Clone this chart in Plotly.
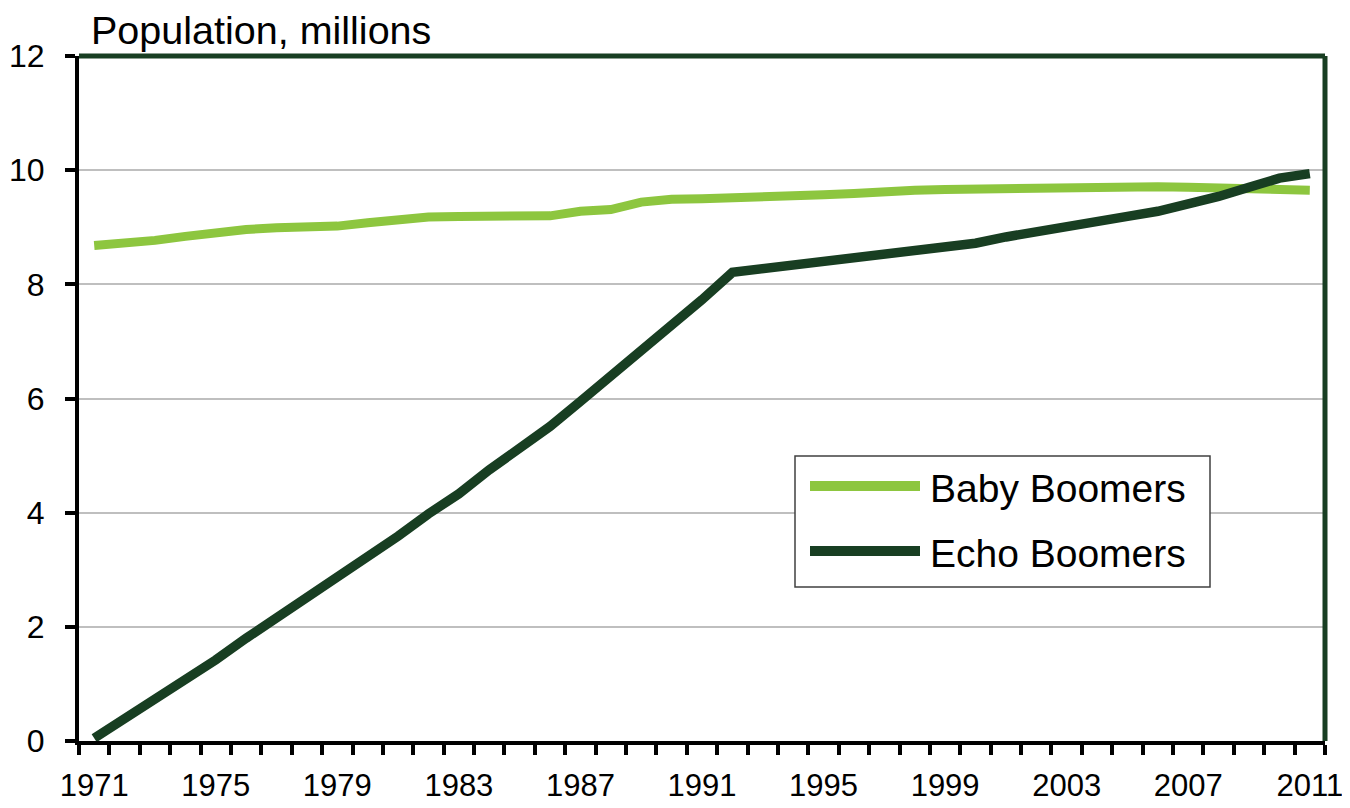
import plotly.graph_objects as go

years = list(range(1971, 2012))
baby_boomers = [8.68, 8.71, 8.77, 8.84, 8.91, 8.96, 8.99, 9.01, 9.02, 9.08,
                9.13, 9.18, 9.19, 9.20, 9.20, 9.20, 9.28, 9.31, 9.44, 9.49,
                9.50, 9.51, 9.53, 9.55, 9.57, 9.59, 9.63, 9.65, 9.66, 9.67,
                9.68, 9.69, 9.70, 9.71, 9.71, 9.71, 9.70, 9.69, 9.67, 9.66, 9.65]
echo_boomers = [0.05, 0.39, 0.74, 1.06, 1.42, 1.80, 2.15, 2.50, 2.85, 3.22,
                3.59, 3.98, 4.33, 4.75, 5.13, 5.51, 5.95, 6.39, 6.82, 7.29,
                7.73, 8.21, 8.27, 8.33, 8.39, 8.46, 8.53, 8.58, 8.65, 8.72,
                8.83, 8.93, 9.02, 9.11, 9.19, 9.28, 9.40, 9.54, 9.70, 9.86, 9.94]
x_tick_vals = [1971, 1975, 1979, 1983, 1987, 1991, 1995, 1999, 2003, 2007, 2011]
x_tick_text = [str(v) for v in x_tick_vals]
y_tick_vals = [0, 2, 4, 6, 8, 10, 12]
series_names = ["Baby Boomers", "Echo Boomers"]
title_text = "Population, millions"

LIGHT = "#8DC63F"
DARK = "#183E22"
FONT = "Arial, Liberation Sans, sans-serif"

# page has an 8px body margin; figure sized to fill the rest of the window
OFF = 8
W, H = 1350 - OFF, 808 - OFF
PL, PR, PT, PB = 79, 1325, 56, 741          # plot area in page pixels
L, T = PL - OFF, PT - OFF
R, B = W - (PR - OFF), H - (PB - OFF)
pw, ph = PR - PL, PB - PT

def px(x):
    return (x - PL) / pw

def py(y):
    return (PB - y) / ph

fig = go.Figure()
fig.add_trace(go.Scatter(x=years, y=baby_boomers, mode="lines", name=series_names[0],
                         line=dict(color=LIGHT, width=9), showlegend=False))
fig.add_trace(go.Scatter(x=years, y=echo_boomers, mode="lines", name=series_names[1],
                         line=dict(color=DARK, width=9.5), showlegend=False))

shapes = [
    dict(type="line", xref="paper", yref="paper", x0=0, x1=1, y0=1, y1=1,
         line=dict(color=DARK, width=5), layer="above"),
    dict(type="line", xref="paper", yref="paper", x0=1, x1=1, y0=0, y1=1,
         line=dict(color=DARK, width=5), layer="above"),
    # legend box
    dict(type="rect", xref="paper", yref="paper", x0=px(795), x1=px(1210),
         y0=py(587), y1=py(456), line=dict(color="#404040", width=1.5),
         fillcolor="white", layer="above"),
    dict(type="line", xref="paper", yref="paper", x0=px(810), x1=px(920),
         y0=py(486), y1=py(486), line=dict(color=LIGHT, width=10), layer="above"),
    dict(type="line", xref="paper", yref="paper", x0=px(810), x1=px(920),
         y0=py(551), y1=py(551), line=dict(color=DARK, width=10), layer="above"),
]

annotations = [
    dict(text=title_text, xref="paper", yref="paper", x=px(89), y=1,
         xanchor="left", yanchor="bottom", showarrow=False, yshift=2,
         font=dict(family=FONT, size=39.5, color="black")),
    dict(text=series_names[0], xref="paper", yref="paper", x=px(928), y=py(486),
         xanchor="left", yanchor="middle", showarrow=False, yshift=-2,
         font=dict(family=FONT, size=39, color="black")),
    dict(text=series_names[1], xref="paper", yref="paper", x=px(928), y=py(551),
         xanchor="left", yanchor="middle", showarrow=False, yshift=-2,
         font=dict(family=FONT, size=39, color="black")),
]

fig.update_layout(
    width=W, height=H,
    margin=dict(l=L, r=R, t=T, b=B, pad=0, autoexpand=False),
    paper_bgcolor="white", plot_bgcolor="white",
    font=dict(family=FONT, size=32, color="black"),
    shapes=shapes, annotations=annotations,
    showlegend=False,
)

fig.update_xaxes(
    range=[1970.5, 2011.5], tickmode="array", tickvals=x_tick_vals, ticktext=x_tick_text,
    ticks="", showgrid=False, zeroline=False, automargin=False,
    showline=True, linecolor="black", linewidth=4,
    tickfont=dict(family=FONT, size=31, color="black"), ticklabelstandoff=14,
    minor=dict(ticks="outside", tick0=1970.5, dtick=1, ticklen=10, tickwidth=4,
               tickcolor="black", showgrid=False),
)
fig.update_yaxes(
    range=[0, 12], tickmode="array", tickvals=y_tick_vals,
    ticks="outside", ticklen=10, tickwidth=4, tickcolor="black",
    showgrid=True, gridcolor="#BFBFBF", gridwidth=1.5, zeroline=False, automargin=False,
    showline=True, linecolor="black", linewidth=4,
    tickfont=dict(family=FONT, size=32, color="black"), ticklabelstandoff=14,
)

fig.write_html("out.html")
